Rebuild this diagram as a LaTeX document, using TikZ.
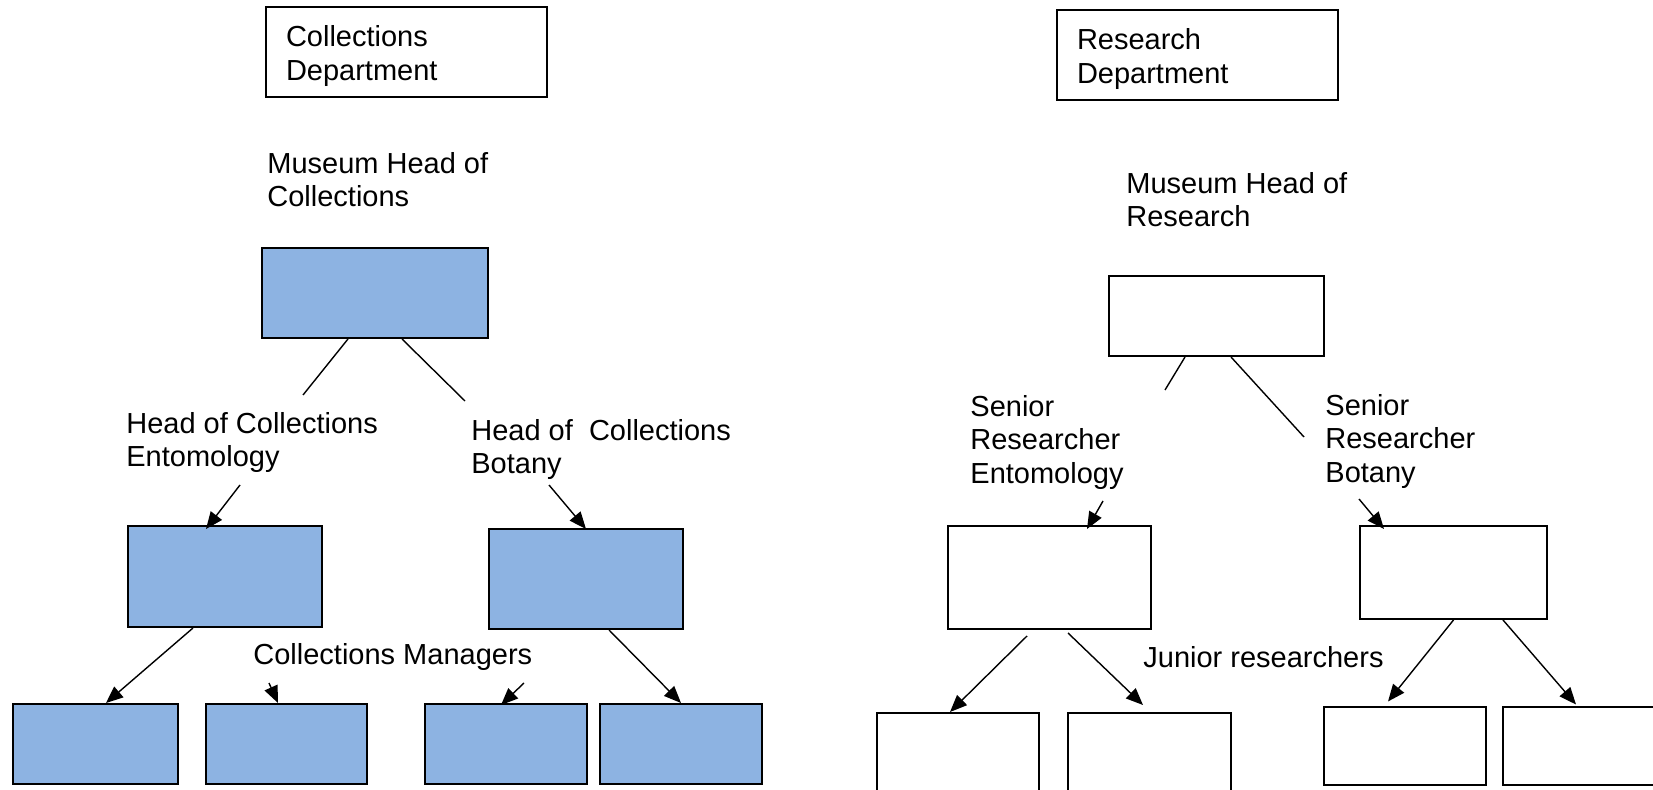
\documentclass[tikz,border=0pt]{standalone}
\usepackage{fontspec}
\setmainfont{Liberation Sans}
\usetikzlibrary{arrows.meta}
\definecolor{boxblue}{RGB}{141,179,226}
\newcommand\dfont{\fontsize{14.5pt}{16.75pt}\selectfont}
\begin{document}
\begin{tikzpicture}[x=0.5pt,y=-0.5pt,
  dept/.style={draw, line width=0.9pt, minimum width=140.5pt, minimum height=45pt, text width=120.5pt, inner xsep=10pt, align=left, font=\dfont},
  bluebox/.style={draw, fill=boxblue, line width=1pt, inner sep=0pt},
  whitebox/.style={draw, line width=1pt, inner sep=0pt},
  lbl/.style={anchor=north west, inner sep=0pt, align=left, font=\dfont},
  conn/.style={line width=0.7pt},
  arr/.style={conn, -{Triangle[length=8.5pt,width=7pt]}},
]
\useasboundingbox (0,0) rectangle (1653,790);
\clip (0,0) rectangle (1653,790);

% department boxes
\node[dept] (cd) at (406.5,52) {\rule{0pt}{14.5pt}Collections\\Department};
\node[dept] (rd) at (1197.5,55) {\rule{0pt}{14.5pt}Research\\Department};

% left tree boxes
\node[bluebox, minimum width=113pt, minimum height=45pt] (mhc) at (375,293) {};
\node[bluebox, minimum width=97pt, minimum height=50.5pt] (hce) at (225,576.5) {};
\node[bluebox, minimum width=97pt, minimum height=50pt] (hcb) at (586,579) {};
\node[bluebox, minimum width=82.5pt, minimum height=40pt] (cm1) at (95.5,744) {};
\node[bluebox, minimum width=80.5pt, minimum height=40pt] (cm2) at (286.5,744) {};
\node[bluebox, minimum width=81pt, minimum height=40pt] (cm3) at (506,744) {};
\node[bluebox, minimum width=81pt, minimum height=40pt] (cm4) at (681,744) {};

% right tree boxes
\node[whitebox, minimum width=107.5pt, minimum height=40pt] (mhr) at (1216.5,316) {};
\node[whitebox, minimum width=101.5pt, minimum height=51.5pt] (sre) at (1049.5,577.5) {};
\node[whitebox, minimum width=93.5pt, minimum height=46.5pt] (srb) at (1453.5,572.5) {};
\node[whitebox, minimum width=81pt, minimum height=40pt] (jr1) at (958,753) {};
\node[whitebox, minimum width=81.5pt, minimum height=40pt] (jr2) at (1149.5,753) {};
\node[whitebox, minimum width=81pt, minimum height=39pt] (jr3) at (1405,745.5) {};
\node[whitebox, minimum width=81pt, minimum height=39pt] (jr4) at (1584,745.5) {};

% labels
\node[lbl] (lmhc) at (267,152) {Museum Head of\\Collections};
\node[lbl] (lhce) at (126,412) {Head of Collections\\Entomology};
\node[lbl] (lhcb) at (471,419) {Head of\ \ Collections\\Botany};
\node[lbl] (lcm) at (253,643) {Collections Managers};
\node[lbl] (lmhr) at (1126,172) {Museum Head of\\Research};
\node[lbl] (lsre) at (970,395) {Senior\\Researcher\\Entomology};
\node[lbl] (lsrb) at (1325,394) {Senior\\Researcher\\Botany};
\node[lbl] (ljr) at (1143,646) {Junior researchers};

% free ends
\coordinate (e1) at (303,395);
\coordinate (e2) at (465,401);
\coordinate (s3) at (240,485);
\coordinate (s4) at (549,485);
\coordinate (s5) at (269,683);
\coordinate (s6) at (524,683);
\coordinate (e7) at (1165,390);
\coordinate (e8) at (1304,437);
\coordinate (s9) at (1103,501);
\coordinate (s10) at (1359,499);

% left connectors
\draw[conn] ([xshift=-13.5pt]mhc.south) -- (e1);
\draw[conn] ([xshift=13.5pt]mhc.south) -- (e2);
\draw[arr] (s3) -- ([xshift=-9.5pt,yshift=-2pt]hce.north);
\draw[arr] (s4) -- ([yshift=-0.5pt]hcb.north);
\draw[arr] ([xshift=-16pt]hce.south) -- ([xshift=5.25pt]cm1.north);
\draw[arr] (s5) -- ([xshift=-4.25pt]cm2.north);
\draw[arr] (s6) -- ([xshift=-2.5pt,yshift=-1pt]cm3.north);
\draw[arr] ([xshift=11.5pt]hcb.south) -- (cm4.north);

% right connectors
\draw[conn] ([xshift=-15.75pt]mhr.south) -- (e7);
\draw[conn] ([xshift=7.25pt]mhr.south) -- (e8);
\draw[arr] (s9) -- ([xshift=18.75pt,yshift=-2pt]sre.north);
\draw[arr] (s10) -- ([xshift=12.5pt,yshift=-2pt]srb.north west);
\draw[arr] ([xshift=-11.25pt,yshift=-3pt]sre.south) -- ([xshift=-4pt]jr1.north);
\draw[arr] ([xshift=9.25pt,yshift=-1.5pt]sre.south) -- ([xshift=-3.25pt,yshift=3.5pt]jr2.north);
\draw[arr] (srb.south) -- ([xshift=-8.5pt,yshift=2pt]jr3.north);
\draw[arr] ([xshift=24.75pt]srb.south) -- ([xshift=-4pt,yshift=0.5pt]jr4.north);
\end{tikzpicture}
\end{document}
